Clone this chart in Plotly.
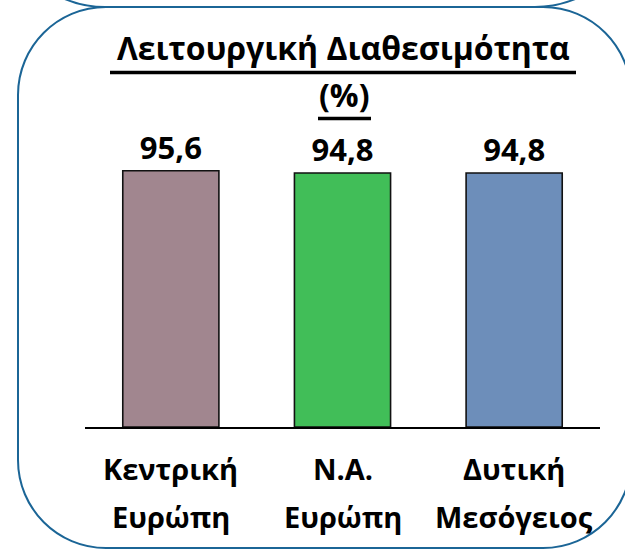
import plotly.graph_objects as go

# ---- data ----
categories = ["Κεντρική Ευρώπη", "Ν.Α. Ευρώπη", "Δυτική Μεσόγειος"]
cat_line1 = ["Κεντρική", "Ν.Α.", "Δυτική"]
cat_line2 = ["Ευρώπη", "Ευρώπη", "Μεσόγειος"]
values = [95.6, 94.8, 94.8]
bar_colors = ["#A1868F", "#41BE58", "#6D8EBA"]
title_line1 = "Λειτουργική Διαθεσιμότητα"
title_line2 = "(%)"

W, H = 625, 549
FONT = "Open Sans"
BORDER = "#1B6596"

fig = go.Figure()

fig.add_trace(go.Bar(
    x=categories, y=values,
    marker=dict(color=bar_colors, line=dict(color="#111111", width=1.6)),
    texttemplate="<b>%{y:.1f}</b>", textposition="outside",
    textfont=dict(family=FONT, size=31, color="#000000"),
    cliponaxis=False, width=0.56, hoverinfo="skip",
))
# empty helper trace for the pixel overlay axes
fig.add_trace(go.Scatter(x=[], y=[], xaxis="x2", yaxis="y2", showlegend=False))

fig.update_layout(
    xaxis2=dict(domain=[0, 1], range=[0, W], visible=False, anchor="y2", fixedrange=True),
    yaxis2=dict(domain=[0, 1], range=[H, 0], visible=False, anchor="x2", fixedrange=True),
)

def rrect_path(x0, y0, x1, y1, r):
    k = 0.5523 * r
    return (f"M {x0+r},{y0} L {x1-r},{y0} "
            f"C {x1-r+k},{y0} {x1},{y0+r-k} {x1},{y0+r} "
            f"L {x1},{y1-r} "
            f"C {x1},{y1-r+k} {x1-r+k},{y1} {x1-r},{y1} "
            f"L {x0+r},{y1} "
            f"C {x0+r-k},{y1} {x0},{y1-r+k} {x0},{y1-r} "
            f"L {x0},{y0+r} "
            f"C {x0},{y0+r-k} {x0+r-k},{y0} {x0+r},{y0} Z")

shapes = [
    dict(type="path", xref="x2", yref="y2", path=rrect_path(18, 7, 631, 548, 88),
         line=dict(color=BORDER, width=2), fillcolor="rgba(0,0,0,0)", layer="below"),
    dict(type="path", xref="x2", yref="y2", path=rrect_path(0, -120, 640, 7, 105),
         line=dict(color=BORDER, width=2), fillcolor="rgba(0,0,0,0)", layer="below"),
    # thick underlines of the title lines
    dict(type="line", xref="x2", yref="y2", x0=110, x1=576, y0=72.5, y1=72.5,
         line=dict(color="#000000", width=3.5)),
    dict(type="line", xref="x2", yref="y2", x0=318, x1=371, y0=118.5, y1=118.5,
         line=dict(color="#000000", width=3.5)),
]
fig.update_layout(shapes=shapes)

annotations = [
    dict(text=f"<b>{title_line1}</b>", xref="x2", yref="y2", x=343, y=66,
         yanchor="bottom", xanchor="center", showarrow=False, yshift=-5,
         font=dict(family=FONT, size=32, color="#000000")),
    dict(text=f"<b>{title_line2}</b>", xref="x2", yref="y2", x=344, y=112,
         yanchor="bottom", xanchor="center", showarrow=False, yshift=-6,
         font=dict(family=FONT, size=32, color="#000000")),
]
for c, l1, l2 in zip(categories, cat_line1, cat_line2):
    annotations.append(dict(text=f"<b>{l1}</b>", xref="x", yref="y2", x=c, y=482,
                            yanchor="bottom", xanchor="center", showarrow=False, yshift=-8,
                            font=dict(family=FONT, size=29, color="#000000")))
    annotations.append(dict(text=f"<b>{l2}</b>", xref="x", yref="y2", x=c, y=530,
                            yanchor="bottom", xanchor="center", showarrow=False, yshift=-8,
                            font=dict(family=FONT, size=29, color="#000000")))
fig.update_layout(annotations=annotations)

fig.update_layout(
    width=W, height=H,
    margin=dict(l=0, r=0, t=0, b=0),
    paper_bgcolor="white", plot_bgcolor="rgba(0,0,0,0)",
    separators=",.",
    showlegend=False,
    bargap=0.44,
    xaxis=dict(domain=[85 / W, 600 / W], showline=True, linecolor="#000000", linewidth=1.6,
               showticklabels=False, ticks="", showgrid=False, zeroline=False, fixedrange=True),
    yaxis=dict(domain=[1 - 427 / H, 1 - 159 / H], range=[0, 100], visible=False,
               showgrid=False, zeroline=False, fixedrange=True),
)

fig.write_html("out.html", config={"displayModeBar": False, "staticPlot": True},
               post_script="document.body.style.margin='0';document.body.style.overflow='hidden';")
